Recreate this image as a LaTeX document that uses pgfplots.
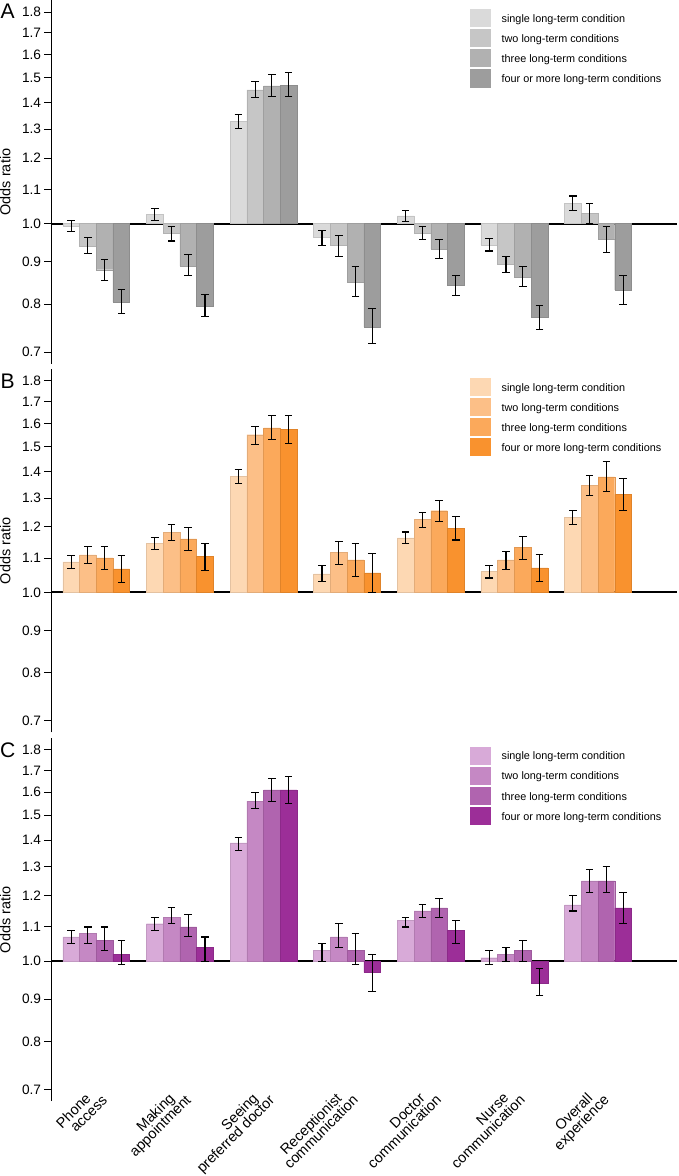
\documentclass[border=0pt]{standalone}
\usepackage{fontspec}
\setmainfont{Liberation Sans}
\usepackage{pgfplots}
\usepackage{pgfplotstable}
\pgfplotsset{compat=1.18}

\definecolor{gA1}{HTML}{DADADA}
\definecolor{gA2}{HTML}{C6C6C6}
\definecolor{gA3}{HTML}{B1B1B1}
\definecolor{gA4}{HTML}{9D9D9D}
\definecolor{oB1}{HTML}{FDD8B3}
\definecolor{oB2}{HTML}{FCBF87}
\definecolor{oB3}{HTML}{FBA95B}
\definecolor{oB4}{HTML}{F9922E}
\definecolor{pC1}{HTML}{D8AAD8}
\definecolor{pC2}{HTML}{C588C4}
\definecolor{pC3}{HTML}{B064AF}
\definecolor{pC4}{HTML}{9C2E98}

% odds ratio and 95% CI (lo, hi) per group, one table per panel
\pgfplotstableread{
x s1 s1lo s1hi s2 s2lo s2hi s3 s3lo s3hi s4 s4lo s4hi
0 0.994 0.978 1.010 0.940 0.921 0.962 0.880 0.855 0.906 0.805 0.780 0.833
1 1.026 1.009 1.043 0.973 0.953 0.992 0.889 0.866 0.917 0.796 0.772 0.822
2 1.330 1.304 1.354 1.450 1.419 1.483 1.466 1.424 1.512 1.470 1.423 1.521
3 0.962 0.941 0.982 0.941 0.912 0.968 0.850 0.817 0.888 0.751 0.717 0.790
4 1.022 1.007 1.037 0.975 0.957 0.993 0.932 0.907 0.956 0.842 0.819 0.866
5 0.943 0.927 0.959 0.893 0.873 0.912 0.862 0.839 0.888 0.772 0.746 0.797
6 1.058 1.038 1.080 1.030 1.000 1.058 0.957 0.922 0.991 0.832 0.799 0.865
}\tabA
\pgfplotstableread{
x s1 s1lo s1hi s2 s2lo s2hi s3 s3lo s3hi s4 s4lo s4hi
0 1.089 1.069 1.109 1.110 1.084 1.136 1.101 1.067 1.137 1.068 1.027 1.107
1 1.146 1.126 1.165 1.182 1.156 1.209 1.161 1.124 1.198 1.105 1.063 1.146
2 1.381 1.355 1.407 1.550 1.510 1.587 1.580 1.531 1.634 1.573 1.514 1.634
3 1.053 1.030 1.078 1.118 1.080 1.153 1.095 1.045 1.146 1.056 1.000 1.115
4 1.164 1.145 1.183 1.225 1.199 1.249 1.255 1.218 1.291 1.195 1.157 1.234
5 1.060 1.041 1.079 1.095 1.067 1.120 1.133 1.097 1.169 1.071 1.032 1.112
6 1.233 1.207 1.256 1.347 1.308 1.385 1.379 1.325 1.438 1.313 1.255 1.374
}\tabB
\pgfplotstableread{
x s1 s1lo s1hi s2 s2lo s2hi s3 s3lo s3hi s4 s4lo s4hi
0 1.07 1.05 1.09 1.08 1.05 1.10 1.06 1.03 1.10 1.02 0.99 1.06
1 1.11 1.09 1.13 1.13 1.11 1.16 1.10 1.07 1.14 1.04 1.00 1.07
2 1.39 1.36 1.41 1.56 1.53 1.60 1.61 1.56 1.66 1.61 1.55 1.67
3 1.03 1.00 1.05 1.07 1.04 1.11 1.03 0.99 1.08 0.97 0.92 1.02
4 1.12 1.10 1.13 1.15 1.13 1.17 1.16 1.13 1.19 1.09 1.05 1.12
5 1.01 0.99 1.03 1.02 1.00 1.04 1.03 1.00 1.06 0.94 0.91 0.98
6 1.17 1.15 1.20 1.25 1.21 1.29 1.25 1.21 1.30 1.16 1.11 1.21
}\tabC

\tikzset{letter/.style={font=\fontsize{10.5}{12}\selectfont, inner sep=0pt}}
% second line of a category label hangs out past the first
\newcommand\hang[1]{#1\kern-5.2pt}

\pgfplotsset{
  orpanel/.style={
    anchor=north west, clip=false,
    scale only axis, width=312pt, height=180.85pt,
    log origin y=0,
    ymin=0.678, ymax=1.859, xmin=-0.54, xmax=6.95,
    ybar=0pt, bar width=8.33pt,
    axis lines*=left,
    x axis line style={draw=none},
    y axis line style={line width=0.5pt},
    xtick=\empty,
    ytick={0.7,0.8,0.9,1.0,1.1,1.2,1.3,1.4,1.5,1.6,1.7,1.8},
    yticklabels={0.7,0.8,0.9,1.0,1.1,1.2,1.3,1.4,1.5,1.6,1.7,1.8},
    extra y ticks={1}, extra y tick labels={},
    extra y tick style={grid=major, major grid style={black, line width=1pt}},
    tick align=outside, major tick length=3.3pt,
    ytick style={black, line width=0.5pt},
    yticklabel style={font=\fontsize{6.8}{8}\selectfont, inner sep=1.5pt},
    ylabel={Odds ratio},
    every axis y label/.style={at={(rel axis cs:0,0.5)}, xshift=-22.8pt,
      rotate=90, anchor=center, inner sep=0pt, font=\fontsize{7.2}{8}\selectfont},
    legend style={at={(0.668,0.977)}, anchor=north west, draw=none, fill=none,
      inner sep=0pt, font=\fontsize{5.4}{6}\selectfont, row sep=0pt,
      column sep=5.3pt,
      nodes={inner sep=0pt, text height=5.5pt, text depth=3.5pt}},
    legend cell align=left,
    error bars/error bar style={black, line width=0.55pt, solid},
    error bars/error mark options={black, rotate=90, line width=0.55pt, mark size=1.9pt},
  },
  sq/.style={legend image code/.code={\fill[##1, draw=none] (0pt,-3.5pt) rectangle (10.5pt,5.5pt);}},
}

\newcommand\bars[5]{%
  \addplot[fill=#2, draw=#2!90!black, line width=0.2pt, sq,
    error bars/.cd, y dir=both, y explicit]
    table[x=x, y=s1, y error plus expr=\thisrow{s1hi}-\thisrow{s1},
      y error minus expr=\thisrow{s1}-\thisrow{s1lo}] {#1};
  \addplot[fill=#3, draw=#3!90!black, line width=0.2pt, sq,
    error bars/.cd, y dir=both, y explicit]
    table[x=x, y=s2, y error plus expr=\thisrow{s2hi}-\thisrow{s2},
      y error minus expr=\thisrow{s2}-\thisrow{s2lo}] {#1};
  \addplot[fill=#4, draw=#4!90!black, line width=0.2pt, sq,
    error bars/.cd, y dir=both, y explicit]
    table[x=x, y=s3, y error plus expr=\thisrow{s3hi}-\thisrow{s3},
      y error minus expr=\thisrow{s3}-\thisrow{s3lo}] {#1};
  \addplot[fill=#5, draw=#5!90!black, line width=0.2pt, sq,
    error bars/.cd, y dir=both, y explicit]
    table[x=x, y=s4, y error plus expr=\thisrow{s4hi}-\thisrow{s4},
      y error minus expr=\thisrow{s4}-\thisrow{s4lo}] {#1};
  \legend{single long-term condition, two long-term conditions,
    three long-term conditions, four or more long-term conditions}
}

\begin{document}
\begin{tikzpicture}
\begin{axis}[ymode=log, orpanel, at={(0,0)}]
\bars{\tabA}{gA1}{gA2}{gA3}{gA4}
\node[letter] at (rel axis cs:0,1) [xshift=-21.6pt, yshift=-5.3pt] {A};
\end{axis}

\begin{axis}[ymode=log, orpanel, at={(0,-183.7pt)}]
\bars{\tabB}{oB1}{oB2}{oB3}{oB4}
\node[letter] at (rel axis cs:0,1) [xshift=-21.6pt, yshift=-6pt] {B};
\end{axis}

\begin{axis}[ymode=log, orpanel, at={(0,-367.4pt)},
  xtick={0,1,2,3,4,5,6},
  xticklabels={{Phone\\\hang{access}},{Making\\\hang{appointment}},
    {Seeing\\\hang{preferred doctor}},{Receptionist\\\hang{communication}},
    {Doctor\\\hang{communication}},{Nurse\\\hang{communication}},
    {Overall\\\hang{experience}}},
  x tick style={draw=none},
  xticklabel style={rotate=45, anchor=north east, align=right,
    font={\fontsize{7.2}{6.4}\selectfont\lineskiplimit=-20pt},
    inner sep=0pt, yshift=10pt, xshift=1.5pt}]
\bars{\tabC}{pC1}{pC2}{pC3}{pC4}
\node[letter] at (rel axis cs:0,1) [xshift=-21.6pt, yshift=-6pt] {C};
\end{axis}
\end{tikzpicture}
\end{document}
